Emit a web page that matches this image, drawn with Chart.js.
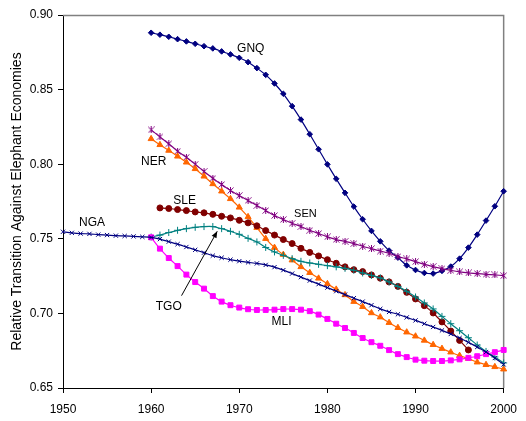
<!DOCTYPE html>
<html>
<head>
<meta charset="utf-8">
<script src="https://cdn.jsdelivr.net/npm/chart.js@4.4.1/dist/chart.umd.min.js"></script>
<style>
  html, body { margin: 0; padding: 0; background: #fff; }
  #wrap { width: 526px; height: 421px; }
</style>
</head>
<body>
<div id="wrap"><canvas id="myChart" width="526" height="421"></canvas></div>
<script>
// years on the x axis
const years = [
  1950, 1951, 1952, 1953, 1954, 1955, 1956, 1957, 1958, 1959,
  1960, 1961, 1962, 1963, 1964, 1965, 1966, 1967, 1968, 1969,
  1970, 1971, 1972, 1973, 1974, 1975, 1976, 1977, 1978, 1979,
  1980, 1981, 1982, 1983, 1984, 1985, 1986, 1987, 1988, 1989,
  1990, 1991, 1992, 1993, 1994, 1995, 1996, 1997, 1998, 1999,
  2000
];
const xTicks = [1950, 1960, 1970, 1980, 1990, 2000];
const yTicks = [0.65, 0.70, 0.75, 0.80, 0.85, 0.90];

// series, one value per year (null where the country has no data)
const gnq = [
  null, null, null, null, null, null, null, null, null, null,
  0.8881, 0.8868, 0.8854, 0.8838, 0.8823, 0.8807, 0.8791, 0.8776, 0.8756, 0.8736,
  0.8713, 0.8684, 0.8644, 0.8599, 0.8541, 0.8472, 0.8389, 0.8299, 0.8201, 0.8100,
  0.7999, 0.7902, 0.7808, 0.7716, 0.7631, 0.7553, 0.7483, 0.7421, 0.7374, 0.7322,
  0.7291, 0.7271, 0.7267, 0.7285, 0.7314, 0.7367, 0.7441, 0.7528, 0.7622, 0.7718,
  0.7819
];
const sen = [
  null, null, null, null, null, null, null, null, null, null,
  0.8230, 0.8183, 0.8137, 0.8087, 0.8047, 0.8000, 0.7951, 0.7906, 0.7864, 0.7823,
  0.7790, 0.7756, 0.7723, 0.7690, 0.7656, 0.7629, 0.7604, 0.7582, 0.7557, 0.7535,
  0.7513, 0.7495, 0.7483, 0.7468, 0.7450, 0.7434, 0.7418, 0.7403, 0.7381, 0.7365,
  0.7347, 0.7329, 0.7314, 0.7300, 0.7289, 0.7278, 0.7271, 0.7267, 0.7262, 0.7258,
  0.7253
];
const ner = [
  null, null, null, null, null, null, null, null, null, null,
  0.8170, 0.8130, 0.8092, 0.8053, 0.8013, 0.7969, 0.7919, 0.7868, 0.7819, 0.7768,
  0.7711, 0.7647, 0.7575, 0.7501, 0.7441, 0.7394, 0.7357, 0.7312, 0.7273, 0.7235,
  0.7198, 0.7161, 0.7124, 0.7079, 0.7045, 0.7003, 0.6975, 0.6938, 0.6904, 0.6874,
  0.6847, 0.6819, 0.6790, 0.6764, 0.6740, 0.6717, 0.6697, 0.6673, 0.6656, 0.6642,
  0.6626
];
const sle = [
  null, null, null, null, null, null, null, null, null, null,
  null, 0.7707, 0.7703, 0.7696, 0.7689, 0.7680, 0.7674, 0.7664, 0.7651, 0.7640,
  0.7624, 0.7607, 0.7587, 0.7555, 0.7525, 0.7495, 0.7468, 0.7436, 0.7409, 0.7385,
  0.7360, 0.7336, 0.7312, 0.7293, 0.7280, 0.7258, 0.7236, 0.7211, 0.7181, 0.7141,
  0.7097, 0.7052, 0.7003, 0.6943, 0.6882, 0.6819, 0.6755, null, null, null,
  null
];
const tgo = [
  null, null, null, null, null, null, null, null, null, null,
  0.7512, 0.7525, 0.7542, 0.7557, 0.7568, 0.7577, 0.7582, 0.7582, 0.7568, 0.7550,
  0.7530, 0.7503, 0.7479, 0.7442, 0.7412, 0.7389, 0.7367, 0.7349, 0.7338, 0.7329,
  0.7320, 0.7312, 0.7302, 0.7289, 0.7271, 0.7255, 0.7238, 0.7211, 0.7181, 0.7148,
  0.7110, 0.7070, 0.7030, 0.6980, 0.6931, 0.6884, 0.6837, 0.6788, 0.6745, 0.6708,
  0.6668
];
const nga = [
  0.7547, 0.7540, 0.7535, 0.7533, 0.7528, 0.7525, 0.7521, 0.7519, 0.7516, 0.7513,
  0.7509, 0.7498, 0.7481, 0.7464, 0.7445, 0.7426, 0.7407, 0.7387, 0.7373, 0.7360,
  0.7350, 0.7342, 0.7335, 0.7325, 0.7310, 0.7290, 0.7267, 0.7243, 0.7220, 0.7196,
  0.7173, 0.7149, 0.7126, 0.7102, 0.7079, 0.7055, 0.7030, 0.7010, 0.6994, 0.6973,
  0.6953, 0.6931, 0.6909, 0.6886, 0.6862, 0.6835, 0.6806, 0.6775, 0.6741, 0.6701,
  0.6658
];
const mli = [
  null, null, null, null, null, null, null, null, null, null,
  0.7510, 0.7434, 0.7371, 0.7317, 0.7260, 0.7210, 0.7166, 0.7116, 0.7079, 0.7055,
  0.7039, 0.7028, 0.7023, 0.7023, 0.7025, 0.7029, 0.7029, 0.7025, 0.7015, 0.6992,
  0.6963, 0.6931, 0.6902, 0.6869, 0.6835, 0.6807, 0.6783, 0.6754, 0.6727, 0.6707,
  0.6690, 0.6683, 0.6681, 0.6681, 0.6685, 0.6692, 0.6702, 0.6713, 0.6727, 0.6740,
  0.6755
];

const FONT = "'Liberation Sans', Arial, sans-serif";

// text labels placed next to the lines, in data units
const notes = [
  { text: 'GNQ', x: 1971.3, y: 0.8776, size: 12 },
  { text: 'NER', x: 1960.3, y: 0.8018, size: 12 },
  { text: 'SLE', x: 1963.8, y: 0.7756, size: 12 },
  { text: 'SEN', x: 1977.5, y: 0.7669, size: 11 },
  { text: 'NGA', x: 1953.3, y: 0.7609, size: 12 },
  { text: 'TGO', x: 1962.0, y: 0.7042, size: 12 },
  { text: 'MLI', x: 1974.8, y: 0.6947, size: 12 }
];
const tgoArrow = { from: [1963.45, 0.7119], to: [1967.5, 0.7550] };

// Excel style "star" marker: an X with a vertical bar
function starMarker(color) {
  const c = document.createElement('canvas');
  c.width = 7; c.height = 7;
  const g = c.getContext('2d');
  g.strokeStyle = color;
  g.lineWidth = 1;
  g.beginPath();
  g.moveTo(0.5, 0.5); g.lineTo(6.5, 6.5);
  g.moveTo(6.5, 0.5); g.lineTo(0.5, 6.5);
  g.moveTo(3.5, 0); g.lineTo(3.5, 7);
  g.stroke();
  return c;
}

function toPoints(values) {
  return values.map((v, i) => ({ x: years[i], y: v }));
}

function series(label, values, color, style, radius) {
  return {
    label: label,
    data: toPoints(values),
    borderColor: color,
    backgroundColor: color,
    borderWidth: 1.2,
    pointStyle: style,
    pointRadius: radius,
    pointBorderWidth: 1,
    pointBorderColor: color,
    pointBackgroundColor: color,
    tension: 0.25,
    spanGaps: false,
    clip: false
  };
}

// top and right frame lines of the plot area
const frame = {
  id: 'frame',
  beforeDatasetsDraw(chart) {
    const a = chart.chartArea, c = chart.ctx;
    c.save();
    c.strokeStyle = '#808080';
    c.lineWidth = 1.5;
    c.beginPath();
    c.moveTo(a.left, a.top + 0.5);
    c.lineTo(a.right, a.top + 0.5);
    c.lineTo(a.right, a.bottom);
    c.stroke();
    c.restore();
  }
};

// series names and the arrow pointing at the TGO line
const labels = {
  id: 'labels',
  afterDatasetsDraw(chart) {
    const x = chart.scales.x, y = chart.scales.y, c = chart.ctx;
    c.save();
    c.fillStyle = '#000';
    c.textAlign = 'center';
    c.textBaseline = 'middle';
    for (const n of notes) {
      c.font = n.size + 'px ' + FONT;
      c.fillText(n.text, x.getPixelForValue(n.x), y.getPixelForValue(n.y));
    }
    const x1 = x.getPixelForValue(tgoArrow.from[0]), y1 = y.getPixelForValue(tgoArrow.from[1]);
    const x2 = x.getPixelForValue(tgoArrow.to[0]), y2 = y.getPixelForValue(tgoArrow.to[1]);
    c.strokeStyle = '#000';
    c.lineWidth = 1;
    c.beginPath();
    c.moveTo(x1, y1);
    c.lineTo(x2, y2);
    c.stroke();
    const ang = Math.atan2(y2 - y1, x2 - x1);
    c.beginPath();
    c.moveTo(x2, y2);
    c.lineTo(x2 - 7 * Math.cos(ang - 0.4), y2 - 7 * Math.sin(ang - 0.4));
    c.lineTo(x2 - 7 * Math.cos(ang + 0.4), y2 - 7 * Math.sin(ang + 0.4));
    c.closePath();
    c.fill();
    c.restore();
  }
};

const ctx = document.getElementById('myChart').getContext('2d');
const myChart = new Chart(ctx, {
  type: 'line',
  data: {
    datasets: [
      series('NGA', nga, '#000080', 'crossRot', 3),
      series('MLI', mli, '#FF00FF', 'rect', 3.5),
      series('TGO', tgo, '#008080', 'cross', 3.5),
      series('SLE', sle, '#800000', 'circle', 3),
      series('NER', ner, '#FF6600', 'triangle', 3.5),
      series('SEN', sen, '#800080', starMarker('#800080'), 3.5),
      series('GNQ', gnq, '#000080', 'rectRot', 2.8)
    ]
  },
  options: {
    responsive: false,
    animation: false,
    layout: { padding: { top: 15, right: 16, bottom: 0, left: 0 } },
    plugins: {
      legend: { display: false },
      tooltip: { enabled: false }
    },
    scales: {
      x: {
        type: 'linear',
        min: xTicks[0],
        max: xTicks[xTicks.length - 1],
        afterBuildTicks: (s) => { s.ticks = xTicks.map(v => ({ value: v })); },
        afterFit: (s) => { s.height = 33; },
        grid: { display: true, drawOnChartArea: false, tickLength: 5, tickColor: '#000' },
        border: { color: '#000', width: 1 },
        ticks: {
          color: '#000',
          font: { family: FONT, size: 12 },
          padding: 9,
          maxRotation: 0,
          callback: (v) => String(v)
        }
      },
      y: {
        min: yTicks[0],
        max: yTicks[yTicks.length - 1],
        afterBuildTicks: (s) => { s.ticks = yTicks.map(v => ({ value: v })); },
        afterFit: (s) => { s.width = 63; },
        grid: { display: true, drawOnChartArea: false, tickLength: 5, tickColor: '#000' },
        border: { color: '#000', width: 1 },
        ticks: {
          color: '#000',
          font: { family: FONT, size: 12 },
          padding: 5,
          callback: (v) => v.toFixed(2)
        },
        title: {
          display: true,
          text: 'Relative Transition Against Elephant Economies',
          color: '#000',
          font: { family: FONT, size: 14 },
          padding: { top: 9, bottom: 0 }
        }
      }
    }
  },
  plugins: [frame, labels]
});
</script>
</body>
</html>
